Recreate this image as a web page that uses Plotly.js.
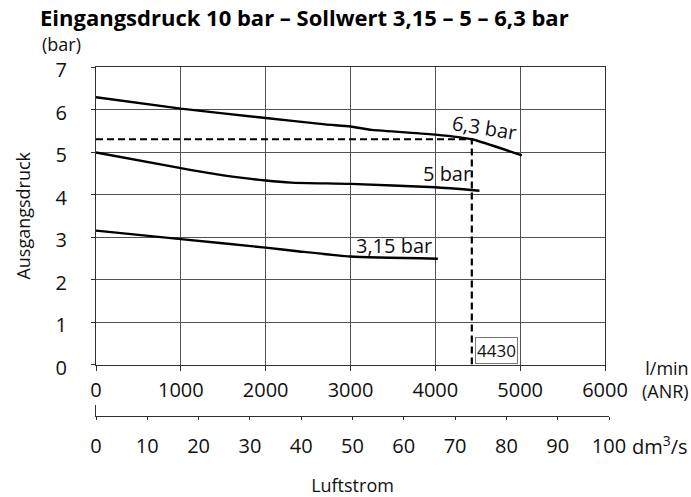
<!DOCTYPE html>
<html>
<head>
<meta charset="utf-8">
<script src="https://cdn.plot.ly/plotly-3.0.1.min.js"></script>
<style>html,body{margin:0;padding:0;background:#fff;}#chart{width:691px;height:497px;}</style>
</head>
<body>
<div id="chart"></div>
<script>
// ---- data ----
const flow63 = [0, 1000, 2000, 2700, 3000, 3250, 4000, 4430, 5020];
const pres63 = [6.29, 6.02, 5.80, 5.65, 5.60, 5.52, 5.41, 5.30, 4.92];
const flow5 = [0, 1000, 1500, 2000, 2300, 3000, 4000, 4520];
const pres5 = [4.99, 4.62, 4.45, 4.33, 4.28, 4.25, 4.17, 4.09];
const flow315 = [0, 1000, 2000, 2400, 3000, 4030];
const pres315 = [3.15, 2.95, 2.75, 2.66, 2.54, 2.49];
const refFlow = 4430;
const refPressure = 5.3;
const seriesNames = ['6,3 bar', '5 bar', '3,15 bar'];
const lpmTicks = [0, 1000, 2000, 3000, 4000, 5000, 6000];
const dmTicks = [0, 10, 20, 30, 40, 50, 60, 70, 80, 90, 100];
const barTicks = [0, 1, 2, 3, 4, 5, 6, 7];

const FONT = 'Open Sans, Noto Sans, sans-serif';
const GRID = '#574e4e';
const AXIS = '#352c2c';

const curve = (x, y, name) => ({
  x: x, y: y, name: name, type: 'scatter', mode: 'lines',
  line: {color: '#000', width: 2.4, shape: 'spline', smoothing: 0.5},
  hoverinfo: 'x+y', xaxis: 'x', yaxis: 'y'
});

const traces = [
  curve(flow63, pres63, seriesNames[0]),
  curve(flow5, pres5, seriesNames[1]),
  curve(flow315, pres315, seriesNames[2]),
  {x: [0, refFlow, refFlow], y: [refPressure, refPressure, 0], type: 'scatter', mode: 'lines',
   line: {color: '#000', width: 2.2, dash: '7px,4px'}, hoverinfo: 'skip', xaxis: 'x', yaxis: 'y'},
  // carrier for the secondary (dm3/s) flow axis
  {x: [dmTicks[0], dmTicks[dmTicks.length - 1]], y: [0, 0], type: 'scatter', mode: 'none',
   hoverinfo: 'skip', xaxis: 'x2', yaxis: 'y2'}
];

const W = 691, H = 497, L = 96, T = 67, R = 0, B = 0;
const PW = W - L - R, PH = H - T - B;
const px = v => (v - L) / PW;
const py = v => (H - B - v) / PH;

const layout = {
  width: W, height: H,
  margin: {l: L, r: R, t: T, b: B, pad: 0},
  paper_bgcolor: '#fff', plot_bgcolor: '#fff',
  showlegend: false,
  font: {family: FONT, size: 20, color: '#111'},
  title: {
    text: 'Eingangsdruck 10 bar – Sollwert 3,15 – 5 – 6,3 bar',
    xref: 'container', yref: 'container', x: 40 / W, xanchor: 'left', y: 1 - 18 / H, yanchor: 'middle',
    font: {family: FONT, size: 22, weight: 'bold', color: '#000'}
  },
  xaxis: {
    domain: [0, (605 - L) / PW], range: [0, 6000], tickvals: lpmTicks,
    ticks: 'outside', ticklen: 5, tickcolor: AXIS, tickwidth: 1,
    showline: true, linecolor: AXIS, linewidth: 1, mirror: true,
    showgrid: true, gridcolor: GRID, gridwidth: 1, zeroline: false,
    ticklabelstandoff: 2, tickfont: {size: 20, color: '#111'}, anchor: 'y', fixedrange: true
  },
  yaxis: {
    domain: [py(364.5), 1], range: [0, 7], tickvals: barTicks,
    ticks: 'outside', ticklen: 4, tickcolor: AXIS, tickwidth: 1,
    showline: true, linecolor: AXIS, linewidth: 1, mirror: true,
    showgrid: true, gridcolor: GRID, gridwidth: 1, zeroline: false,
    ticklabelstandoff: 20, ticklabelshift: 3, tickfont: {size: 20, color: '#111'}, anchor: 'x',
    title: {text: 'Ausgangsdruck', standoff: 20, font: {size: 18, color: '#111'}}, fixedrange: true
  },
  xaxis2: {
    domain: [0, (609 - L) / PW], range: [0, 100], tickvals: dmTicks, anchor: 'y2',
    ticks: 'outside', ticklen: 3, tickcolor: AXIS, tickwidth: 1,
    showline: true, linecolor: AXIS, linewidth: 1, showgrid: false, zeroline: false,
    ticklabelstandoff: 9, tickfont: {size: 20, color: '#111'},
    title: {text: 'Luftstrom', standoff: 24, font: {size: 18, color: '#111'}}, fixedrange: true
  },
  yaxis2: {
    domain: [py(415.7), py(405)], range: [0, 1], anchor: 'x2',
    showline: true, linecolor: AXIS, linewidth: 1, showgrid: false, zeroline: false,
    showticklabels: false, ticks: '', fixedrange: true
  },
  annotations: [
    {text: '(bar)', xref: 'paper', yref: 'paper', x: px(61), y: py(44), xanchor: 'center', yanchor: 'middle',
     showarrow: false, font: {size: 18, color: '#111'}},
    {text: 'l/min<br>(ANR)', xref: 'paper', yref: 'paper', x: px(691), y: py(379), xanchor: 'right', yanchor: 'middle',
     align: 'right', showarrow: false, font: {size: 18, color: '#111'}},
    {text: 'dm<sup>3</sup>/s', xref: 'paper', yref: 'paper', x: px(690), y: py(445), xanchor: 'right', yanchor: 'middle',
     showarrow: false, font: {size: 20, color: '#111'}},
    {text: seriesNames[0], xref: 'x', yref: 'y', x: 4574, y: 5.57, textangle: 9,
     showarrow: false, font: {size: 20, color: '#111'}},
    {text: seriesNames[1], xref: 'x', yref: 'y', x: 4141, y: 4.50,
     showarrow: false, font: {size: 20, color: '#111'}},
    {text: seriesNames[2], xref: 'x', yref: 'y', x: 3513, y: 2.81,
     showarrow: false, font: {size: 20, color: '#111'}},
    {text: String(refFlow), xref: 'x', yref: 'y', x: refFlow, y: 0.33, xanchor: 'left', yanchor: 'middle', xshift: 3,
     showarrow: false, bgcolor: '#fff', bordercolor: '#777', borderwidth: 1, borderpad: 1,
     font: {size: 17, color: '#111'}}
  ]
};

Plotly.newPlot('chart', traces, layout, {staticPlot: true, displayModeBar: false});
</script>
</body>
</html>
